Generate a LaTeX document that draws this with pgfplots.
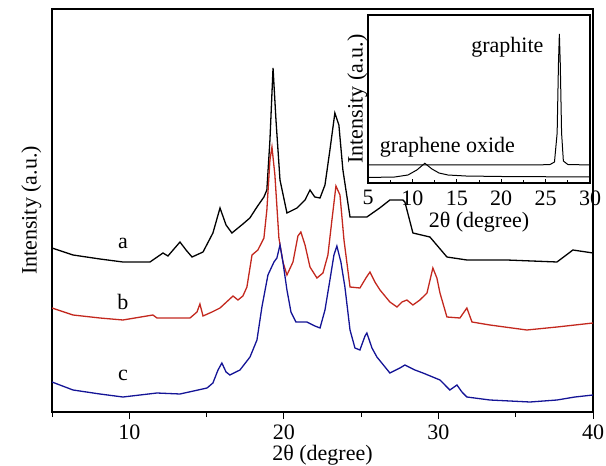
\documentclass[border=0pt]{standalone}
\usepackage{fontspec}
\setmainfont{Liberation Serif}
\usepackage{pgfplots}
\pgfplotsset{compat=1.18}
\definecolor{cred}{RGB}{195,40,30}
\definecolor{cblue}{RGB}{20,20,150}
\newcommand{\ff}{\fontsize{22bp}{26bp}\selectfont}
\begin{document}
\ff
\begin{tikzpicture}
\begin{axis}[
  at={(0,0)}, anchor=south west,
  scale only axis, width=541bp, height=403bp,
  xmin=5, xmax=40, ymin=0, ymax=403,
  xtick={10,20,30,40}, minor xtick={5,15,25,35},
  xtick pos=bottom, tick align=outside,
  major tick length=7bp, minor tick length=5bp,
  ytick=\empty,
  axis line style={line width=1.1bp},
  every tick/.style={line width=1bp, black},
  /pgf/number format/assume math mode=true,
  tick label style={font=\ff},
  label style={font=\ff},
  xticklabel style={yshift=2bp},
  xlabel={2θ (degree)},
  ylabel={Intensity (a.u.)},
  xlabel style={yshift=9bp},
  ylabel style={yshift=-4bp},
  clip=true,
]
\addplot[black, line width=1.3bp] coordinates {
(5.0,164)(6.36,157)(8.1,153)(9.59,150)(11.34,150)(12.18,159)(12.5,156)(13.28,170)(13.67,162)(14.06,155)(14.77,160)(15.41,179)(15.87,204)(16.26,187)(16.64,179)(17.35,188)(17.8,194)(18.26,205)(18.71,215)(18.9,222)(19.1,272)(19.3,344)(19.49,292)(19.75,232)(20.2,199)(20.85,204)(21.37,212)(21.69,222)(22.0,215)(22.34,214)(22.66,227)(22.98,262)(23.3,299)(23.56,287)(23.82,242)(24.28,195)(25.37,195)(26.2,204)(26.86,212)(27.7,212)(27.83,210)(28.35,179)(29.45,175)(30.55,155)(31.84,152)(34.43,152)(37.67,150)(38.7,162)(40,159)
};
\addplot[cred, line width=1.3bp] coordinates {
(5.0,104)(6.36,97)(8.1,94)(9.59,92)(11.53,97)(11.79,94)(12.96,94)(13.93,94)(14.38,100)(14.57,108)(14.77,96)(15.35,100)(15.87,104)(16.71,116)(17.03,112)(17.35,116)(17.61,125)(17.94,157)(18.32,162)(18.71,174)(18.9,202)(19.1,252)(19.23,265)(19.42,237)(19.68,174)(19.94,150)(20.2,137)(20.59,150)(20.91,176)(21.1,180)(21.37,167)(21.69,145)(22.14,134)(22.53,139)(22.85,157)(23.11,192)(23.37,226)(23.63,217)(23.89,172)(24.28,125)(24.92,124)(25.31,134)(25.57,140)(25.89,130)(26.22,122)(26.86,110)(27.32,105)(27.64,110)(27.96,112)(28.35,107)(28.8,112)(29.26,119)(29.64,144)(29.9,134)(30.1,119)(30.55,95)(31.39,94)(31.84,104)(32.17,90)(33.33,87)(35.72,82)(37.67,85)(40,89)
};
\addplot[cblue, line width=1.3bp] coordinates {
(5.0,30)(6.36,22)(8.1,18)(9.59,15)(11.79,19)(13.28,18)(15.03,24)(15.41,29)(15.74,42)(15.99,49)(16.26,40)(16.51,37)(17.16,42)(17.81,55)(18.26,72)(18.58,105)(18.97,137)(19.36,150)(19.55,154)(19.75,167)(19.94,150)(20.2,122)(20.46,100)(20.78,90)(21.49,90)(22.01,86)(22.34,84)(22.66,102)(22.98,132)(23.24,157)(23.43,166)(23.69,150)(23.95,125)(24.28,82)(24.6,64)(24.92,62)(25.25,76)(25.37,79)(25.7,64)(26.02,55)(26.86,39)(27.51,44)(27.83,47)(28.48,42)(29.0,39)(30.1,32)(30.74,22)(31.2,27)(31.52,20)(31.84,15)(33.33,12)(35.92,10)(37.67,12)(38.83,15)(40,17)
};
\node[font=\ff] at (axis cs:9.59,169) {a};
\node[font=\ff] at (axis cs:9.59,110) {b};
\node[font=\ff] at (axis cs:9.59,37) {c};
\end{axis}
\begin{axis}[
  at={(316bp,229bp)}, anchor=south west,
  scale only axis, width=222bp, height=168bp,
  xmin=5, xmax=30, ymin=0, ymax=168,
  xtick={5,10,15,20,25,30}, minor x tick num=1,
  xtick pos=bottom, tick align=inside,
  major tick length=4bp, minor tick length=2.5bp,
  ytick=\empty,
  axis line style={line width=1.1bp},
  every tick/.style={line width=0.8bp, black},
  /pgf/number format/assume math mode=true,
  tick label style={font=\ff},
  label style={font=\ff},
  xlabel={2θ (degree)},
  ylabel={Intensity (a.u.)},
  xlabel style={yshift=8bp},
  ylabel style={yshift=-7bp},
]
\addplot[black, line width=1bp] coordinates {
(5,18)(24,18)(25.5,18.5)(26.0,21)(26.3,50)(26.45,120)(26.55,149)(26.65,120)(26.8,50)(27.0,22)(27.5,18.5)(30,18)
};
\addplot[black, line width=1bp] coordinates {
(5,5.5)(8,6)(9.5,8)(10.5,13)(11.4,19.7)(12.2,14)(13,10)(14,8)(16,7)(20,6.5)(30,6)
};
\node[anchor=east, font=\ff] at (axis cs:25.6,136) {graphite};
\node[anchor=west, font=\ff] at (axis cs:5.5,36) {graphene oxide};
\end{axis}
\pgfresetboundingbox
\path[use as bounding box] (-52bp,-54bp) rectangle (554bp,412bp);
\end{tikzpicture}
\end{document}
